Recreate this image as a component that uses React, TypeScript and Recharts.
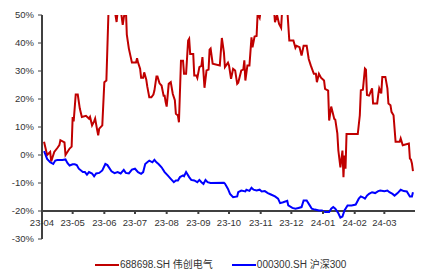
import React from 'react';
import { LineChart, Line, XAxis, YAxis, ReferenceLine } from 'recharts';

// 688698.SH 伟创电气, cumulative return (%)
const redDates = [
  '2023-04-03', '2023-04-06', '2023-04-09', '2023-04-10', '2023-04-13', '2023-04-16', '2023-04-18', '2023-04-19',
  '2023-04-23', '2023-04-24', '2023-04-28', '2023-04-30', '2023-05-01', '2023-05-02', '2023-05-04', '2023-05-06',
  '2023-05-08', '2023-05-10', '2023-05-14', '2023-05-17', '2023-05-18', '2023-05-20', '2023-05-22', '2023-05-23',
  '2023-05-25', '2023-05-26', '2023-05-27', '2023-05-30', '2023-06-01', '2023-06-03', '2023-06-05', '2023-06-08',
  '2023-06-11', '2023-06-13', '2023-06-15', '2023-06-17', '2023-06-19', '2023-06-20', '2023-06-22', '2023-06-23',
  '2023-06-25', '2023-06-28', '2023-07-02', '2023-07-03', '2023-07-04', '2023-07-06', '2023-07-07', '2023-07-09',
  '2023-07-10', '2023-07-12', '2023-07-13', '2023-07-15', '2023-07-17', '2023-07-19', '2023-07-20', '2023-07-22',
  '2023-07-23', '2023-07-25', '2023-07-27', '2023-07-29', '2023-07-30', '2023-07-31', '2023-08-01', '2023-08-03',
  '2023-08-05', '2023-08-07', '2023-08-09', '2023-08-10', '2023-08-12', '2023-08-13', '2023-08-15', '2023-08-17',
  '2023-08-18', '2023-08-20', '2023-08-22', '2023-08-23', '2023-08-24', '2023-08-27', '2023-08-28', '2023-08-30',
  '2023-08-31', '2023-09-02', '2023-09-04', '2023-09-05', '2023-09-06', '2023-09-07', '2023-09-09', '2023-09-11',
  '2023-09-12', '2023-09-13', '2023-09-15', '2023-09-22', '2023-09-24', '2023-09-26', '2023-09-27', '2023-09-30',
  '2023-10-01', '2023-10-03', '2023-10-05', '2023-10-07', '2023-10-09', '2023-10-10', '2023-10-13', '2023-10-15',
  '2023-10-16', '2023-10-17', '2023-10-19', '2023-10-21', '2023-10-23', '2023-10-24', '2023-10-26', '2023-10-28',
  '2023-10-29', '2023-10-31', '2023-11-02', '2023-11-06', '2023-11-10', '2023-11-14', '2023-11-15', '2023-11-17',
  '2023-11-19', '2023-11-21', '2023-11-22', '2023-11-25', '2023-11-27', '2023-11-29', '2023-12-03', '2023-12-05',
  '2023-12-06', '2023-12-09', '2023-12-11', '2023-12-13', '2023-12-16', '2023-12-18', '2023-12-20', '2023-12-23',
  '2023-12-25', '2023-12-26', '2023-12-28', '2023-12-30', '2024-01-02', '2024-01-03', '2024-01-06', '2024-01-07',
  '2024-01-09', '2024-01-12', '2024-01-13', '2024-01-15', '2024-01-16', '2024-01-18', '2024-01-20', '2024-01-21',
  '2024-01-22', '2024-01-23', '2024-01-24', '2024-02-04', '2024-02-06', '2024-02-07', '2024-02-09', '2024-02-11',
  '2024-02-12', '2024-02-13', '2024-02-15', '2024-02-16', '2024-02-18', '2024-02-19', '2024-02-23', '2024-02-24',
  '2024-02-25', '2024-02-27', '2024-02-28', '2024-03-02', '2024-03-04', '2024-03-05', '2024-03-07', '2024-03-08',
  '2024-03-10', '2024-03-12', '2024-03-16', '2024-03-17', '2024-03-19', '2024-03-25', '2024-03-26', '2024-03-27',
  '2024-03-28', '2024-03-29',
];
const redValues = [
  4.7, 0, 1.1, -2.3, 1.1, 2.5, 3.5, 5.3,
  4.5, 0, 2.3, 3, 13.6, 12, 21.6, 21.6,
  16.6, 13.6, 14, 13, 13.6, 10.6, 12, 13,
  8.9, 7, 9.4, 10.6, 26, 26.6, 50.5, 56,
  52, 47.5, 55, 52, 46.5, 49, 53, 43,
  38, 33, 33, 34.6, 33, 30.8, 27.6, 27.6,
  29.5, 27, 24.5, 20.6, 20.6, 21.6, 23, 28,
  28, 25.6, 24.8, 21.2, 21.2, 18.9, 17.3, 25.4,
  26, 21.8, 19.6, 14.7, 14.1, 11.7, 33.7, 33.7,
  29, 29, 40.9, 41.5, 36.1, 36.1, 28.4, 28.4,
  27.5, 31.4, 31.8, 35, 29.6, 24, 30.2, 30.5,
  37.6, 38, 32.6, 32, 41.8, 36.7, 31.4, 33,
  32, 27.2, 30.8, 30.2, 25.4, 25.8, 30.2, 30.5,
  33.8, 26.6, 32, 32, 42, 38.5, 42.3, 42.5,
  50.5, 49, 54, 58, 55, 52, 47.4, 50,
  46.8, 45.4, 52, 55, 52, 40.9, 40.9, 38.3,
  39, 38.5, 35.5, 39, 39, 34.3, 32, 29,
  29, 26, 29, 27.6, 26.6, 23.6, 23, 12.3,
  17.3, 12.9, 12.6, 7.7, 1.6, -4.4, 1.6, -7.9,
  -0.2, -4.9, 7.5, 7.5, 14.2, 23.1, 23.3, 30.9,
  30.5, 21.4, 21.2, 22, 23.8, 18.4, 18.4, 21.4,
  23.8, 22, 27.9, 27.9, 23.8, 18.4, 17.8, 15.4,
  14.2, 4.7, 4.7, 5.9, 3.5, 4.1, -1.25, -1.6,
  -3, -5.8,
];

// 000300.SH 沪深300, cumulative return (%)
const blueDates = [
  '2023-04-03', '2023-04-04', '2023-04-06', '2023-04-09', '2023-04-12', '2023-04-14', '2023-04-16', '2023-04-21',
  '2023-04-24', '2023-04-26', '2023-04-28', '2023-05-01', '2023-05-03', '2023-05-05', '2023-05-07', '2023-05-11',
  '2023-05-13', '2023-05-15', '2023-05-17', '2023-05-20', '2023-05-22', '2023-05-24', '2023-05-27', '2023-05-30',
  '2023-06-02', '2023-06-04', '2023-06-08', '2023-06-11', '2023-06-14', '2023-06-17', '2023-06-20', '2023-06-22',
  '2023-06-25', '2023-06-28', '2023-07-01', '2023-07-04', '2023-07-07', '2023-07-09', '2023-07-11', '2023-07-13',
  '2023-07-15', '2023-07-18', '2023-07-20', '2023-07-22', '2023-07-24', '2023-07-27', '2023-07-30', '2023-08-02',
  '2023-08-05', '2023-08-08', '2023-08-10', '2023-08-12', '2023-08-14', '2023-08-17', '2023-08-18', '2023-08-20',
  '2023-08-23', '2023-08-25', '2023-08-28', '2023-08-31', '2023-09-02', '2023-09-04', '2023-09-06', '2023-09-08',
  '2023-09-10', '2023-09-13', '2023-09-26', '2023-09-27', '2023-09-30', '2023-10-02', '2023-10-05', '2023-10-09',
  '2023-10-10', '2023-10-13', '2023-10-17', '2023-10-18', '2023-10-21', '2023-10-23', '2023-10-25', '2023-10-28',
  '2023-10-31', '2023-11-02', '2023-11-05', '2023-11-08', '2023-11-11', '2023-11-15', '2023-11-18', '2023-11-20',
  '2023-11-23', '2023-11-27', '2023-11-28', '2023-12-02', '2023-12-05', '2023-12-08', '2023-12-11', '2023-12-13',
  '2023-12-16', '2023-12-19', '2023-12-21', '2023-12-24', '2023-12-28', '2023-12-31', '2024-01-03', '2024-01-07',
  '2024-01-09', '2024-01-11', '2024-01-13', '2024-01-16', '2024-01-18', '2024-01-20', '2024-01-22', '2024-01-25',
  '2024-01-29', '2024-02-02', '2024-02-05', '2024-02-07', '2024-02-09', '2024-02-11', '2024-02-13', '2024-02-15',
  '2024-02-18', '2024-02-21', '2024-02-24', '2024-02-26', '2024-03-01', '2024-03-04', '2024-03-06', '2024-03-09',
  '2024-03-11', '2024-03-14', '2024-03-17', '2024-03-20', '2024-03-23', '2024-03-26', '2024-03-28', '2024-03-29',
];
const blueValues = [
  1.4, 0.5, -1.4, -2.6, -3.2, -2, -1.8, -1.8,
  -1.6, -2.9, -3.75, -3.3, -3.3, -3.6, -4.9, -6.1,
  -6.1, -7, -6.1, -6.6, -7.6, -6.6, -6.4, -5.5,
  -3.2, -3.6, -5.8, -6.5, -6.1, -6.6, -5.3, -6.4,
  -6.6, -5.2, -4.9, -6.1, -6.7, -6.1, -3.2, -2.6,
  -2, -2.6, -1.7, -2.6, -3.2, -4.4, -6.1, -7.3,
  -8.5, -9.7, -9.1, -9.1, -7.9, -7.3, -7.6, -6.1,
  -7.9, -8.9, -9.1, -9.7, -8.9, -9.7, -10.3, -8.9,
  -9.7, -10, -9.9, -10.2, -12.1, -13.9, -15.1, -14.8,
  -13.3, -12.7, -13, -12.4, -12.8, -11.7, -12.4, -12.7,
  -12.4, -13, -12.9, -13.6, -14.1, -14.8, -15.6, -17.2,
  -16.9, -16.4, -18, -18.9, -19.2, -18.9, -18.6, -16.25,
  -16.25, -18, -19.2, -19.5, -19.8, -19.8, -20.4, -20.4,
  -19.2, -18.6, -19.2, -20.8, -22.4, -22, -19.8, -18,
  -18, -17.7, -15.6, -14.8, -15.1, -15.6, -14.5, -13.9,
  -13.3, -13.6, -12.9, -12.7, -12.9, -12.7, -13.3, -13.9,
  -14.5, -13.6, -12.4, -12.9, -13, -14.8, -14.8, -13.3,
];

const monthLabels = ['23-04', '23-05', '23-06', '23-07', '23-08', '23-09', '23-10', '23-11', '23-12', '24-01', '24-02', '24-03'];
const yTicks = [-30, -20, -10, 0, 10, 20, 30, 40, 50];

const RED = '#C00000';
const BLUE = '#0000FF';
const AXIS = '#404040';
const TEXT = '#333333';
const FONT = '"Liberation Sans", Arial, "Noto Sans CJK SC", sans-serif';

const W = 424;
const H = 273;
const M_TOP = 15;
const Y_W = 42;
const X_H = 34;
const PLOT_H = H - M_TOP - X_H;
const Y_MIN = -30;
const Y_MAX = 50;
const X_CROSS = -20; // the x axis crosses the y axis at -20%

const START = Date.parse('2023-04-01');
const END = Date.parse('2024-03-31');
const monthTicks = monthLabels.map((m) => Date.parse(`20${m}-01`));

// merged table for the chart
const byTime = new Map<number, { t: number; red?: number; blue?: number }>();
redDates.forEach((d, i) => {
  const t = Date.parse(d);
  byTime.set(t, { ...(byTime.get(t) || { t }), red: redValues[i] });
});
blueDates.forEach((d, i) => {
  const t = Date.parse(d);
  byTime.set(t, { ...(byTime.get(t) || { t }), blue: blueValues[i] });
});
const table = Array.from(byTime.values()).sort((a, b) => a.t - b.t);

const labelFor = (t: number) => monthLabels[monthTicks.indexOf(t)] ?? '';

// ticks sit on the -20% line, not on the plot bottom
const lift = (PLOT_H * (X_CROSS - Y_MIN)) / (Y_MAX - Y_MIN);

const MonthTick = (props: any) => {
  const { x, y, payload } = props;
  return (
    <g transform={`translate(${x},${y - lift})`}>
      <line x1={0} x2={0} y1={0} y2={3} stroke={AXIS} strokeWidth={2} />
      <text y={15} textAnchor="middle" fontSize={9.5} fill={TEXT} fontFamily={FONT}>
        {labelFor(payload.value)}
      </text>
    </g>
  );
};

const LegendItem = ({ color, label }: { color: string; label: string }) => (
  <div style={{ display: 'flex', alignItems: 'center' }}>
    <svg width={24} height={4} style={{ marginRight: 1 }}>
      <line x1={0} x2={24} y1={2} y2={2} stroke={color} strokeWidth={2} />
    </svg>
    <span>{label}</span>
  </div>
);

export default function App() {
  return (
    <div style={{ position: 'absolute', left: 0, top: 0, width: W, height: H, fontFamily: FONT }}>
      <LineChart width={W} height={H} data={table} margin={{ top: M_TOP, right: 9, bottom: 0, left: 0 }}>
        <YAxis
          width={Y_W}
          domain={[Y_MIN, Y_MAX]}
          ticks={yTicks}
          interval={0}
          allowDataOverflow
          axisLine={{ stroke: AXIS, strokeWidth: 2 }}
          tickLine={{ stroke: AXIS }}
          tickSize={4}
          tickMargin={4}
          tick={{ fontSize: 9.5, fill: TEXT, fontFamily: FONT }}
          tickFormatter={(v: number) => `${v}%`}
        />
        <XAxis
          type="number"
          dataKey="t"
          domain={[START, END]}
          ticks={monthTicks}
          interval={0}
          height={X_H}
          axisLine={false}
          tickLine={false}
          tickSize={0}
          tickMargin={0}
          tick={<MonthTick />}
        />
        <ReferenceLine y={X_CROSS} stroke={AXIS} strokeWidth={2} />
        <Line
          type="linear"
          dataKey="red"
          name="688698.SH 伟创电气"
          stroke={RED}
          strokeWidth={2}
          dot={false}
          connectNulls
          isAnimationActive={false}
        />
        <Line
          type="linear"
          dataKey="blue"
          name="000300.SH 沪深300"
          stroke={BLUE}
          strokeWidth={2}
          dot={false}
          connectNulls
          isAnimationActive={false}
        />
      </LineChart>
      <div
        style={{
          position: 'absolute',
          left: 95,
          top: 258,
          display: 'flex',
          gap: 19,
          fontSize: 10,
          color: TEXT,
          lineHeight: '14px',
        }}
      >
        <LegendItem color={RED} label="688698.SH 伟创电气" />
        <LegendItem color={BLUE} label="000300.SH 沪深300" />
      </div>
    </div>
  );
}
